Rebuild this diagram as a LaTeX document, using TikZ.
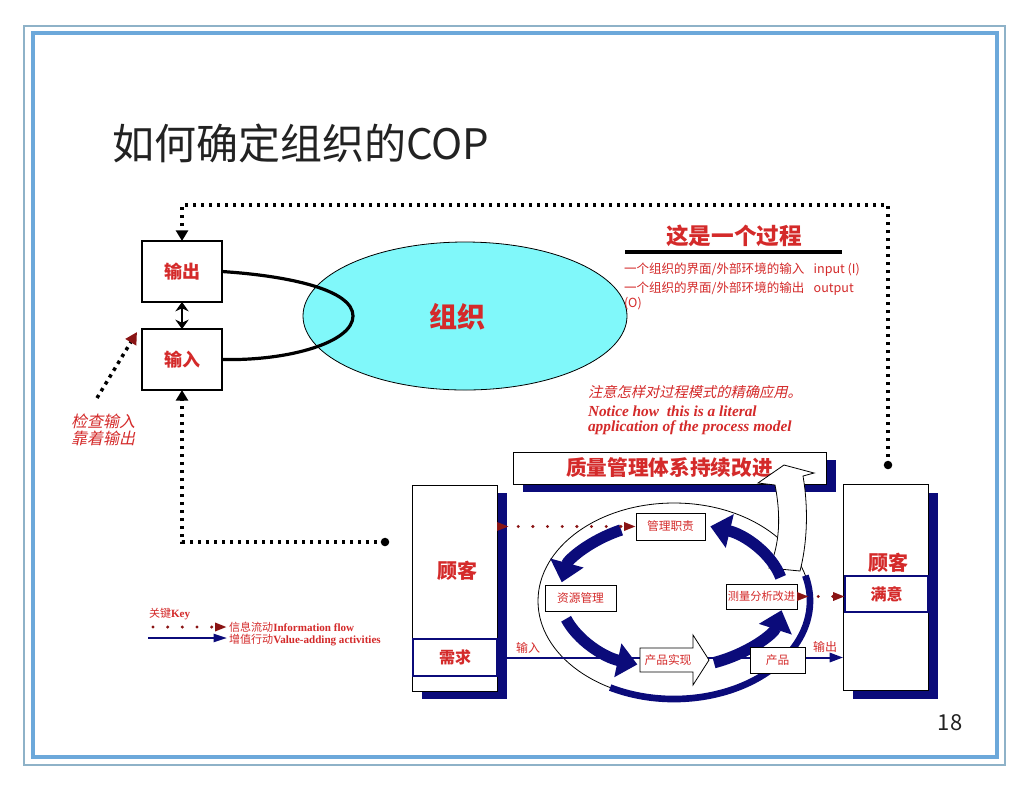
\documentclass[tikz,border=0pt]{standalone}
\usepackage{fontspec}
\setmainfont{Liberation Serif}
\newfontfamily\cjk{Noto Sans CJK SC}
\newfontfamily\cjkit[FakeSlant=0.22]{Noto Sans CJK SC}
\newfontfamily\tnr{Liberation Serif}
\usetikzlibrary{arrows.meta,shapes.geometric,calc,shadows}
\definecolor{tred}{HTML}{D42A2A}
\definecolor{dred}{HTML}{8A1414}
\definecolor{navy}{HTML}{0B0B7A}
\definecolor{cyanfill}{HTML}{80F8FA}
\definecolor{frameA}{HTML}{6CA8DA}
\definecolor{frameB}{HTML}{8EB2C8}
\definecolor{titlec}{HTML}{222222}
\tikzset{
  every node/.style={inner sep=0pt, outer sep=0pt},
  wbox/.style={draw=black, line width=0.8pt, fill=white, text=tred, font=\cjk\bfseries\fontsize{13.5}{15}\selectfont},
  sbox/.style={draw=black, line width=0.6pt, fill=white, text=tred, font=\cjk\fontsize{8.8}{10}\selectfont},
  nbox/.style={draw=navy, line width=2.2pt, fill=white, text=tred, font=\cjk\bfseries\fontsize{12}{13}\selectfont},
  navyshadow/.style={drop shadow={shadow xshift=7.5pt, shadow yshift=-6pt, fill=navy, opacity=1}},
  custbox/.style={draw=black, line width=0.6pt, fill=white, minimum width=63.75pt, minimum height=154.5pt, navyshadow},
  dotline/.style={line width=2.6pt, dash pattern=on 2.6pt off 3.4pt},
  infoline/.style={draw=dred, line width=2.5pt, line cap=round, dash pattern=on 0pt off 11pt},
  infotip/.style={-{Triangle[width=6pt,length=9pt]}},
  cyc/.style={draw=navy, line width=8.5pt, -{Triangle[width=25pt,length=15pt]}},
  lbl/.style={text=tred, font=\cjk\fontsize{9}{10}\selectfont},
  custtxt/.style={text=tred, font=\cjk\bfseries\fontsize{15}{17}\selectfont},
}
\begin{document}
\begin{tikzpicture}[x=0.75pt,y=-0.75pt]
\useasboundingbox (0,0) rectangle (1030,790);
\fill[white] (0,0) rectangle (1030,790);
% frame
\draw[frameB, line width=1.2pt] (24,26) rectangle (1005,765);
\draw[frameA, line width=3.4pt] (33,33) rectangle (997,757);

% title
\node[anchor=base west, text=titlec, font=\cjk\fontsize{31.5}{34}\selectfont] (title) at (112,159) {如何确定组织的COP};

% top left
\node[ellipse, draw=black, line width=0.6pt, fill=cyanfill, minimum width=243pt, minimum height=111pt] (org) at (465,316) {};
\node[text=tred, font=\cjk\bfseries\fontsize{21}{24}\selectfont] (orgt) at (457,317) {组织};
\node[wbox, minimum width=60pt, minimum height=45.75pt] (out) at (182,271.5) {输出};
\node[wbox, minimum width=60pt, minimum height=45.75pt] (in) at (182,359.5) {输入};
\draw[line width=2.4pt] (out.east) .. controls (290,276) and (353,290) .. (353,316)
  .. controls (353,342) and (290,361) .. (in.east);
\draw[line width=2.2pt, {Stealth[length=7pt,width=10pt]}-{Stealth[length=7pt,width=10pt]}] (out.south) -- (in.north);

\coordinate (tdot) at (888,465);
\coordinate (tr) at (888,205);
\coordinate (tl) at (182,205);
\draw[dotline, -{Triangle[width=9pt,length=8pt]}] (tdot) -- (tr) -- (tl) -- (out.north);
\fill (tdot) circle[radius=3.2pt];
\coordinate (bdot) at (385,542);
\coordinate (bl) at (182,542);
\draw[dotline, -{Triangle[width=9pt,length=8pt]}] (bdot) -- (bl) -- (in.south);
\fill (bdot) circle[radius=3.2pt];

\coordinate (chkA) at (97,398);
\coordinate (chkB) at (137,332);
\draw[dotline, -{Triangle[width=9pt,length=9pt,color=dred]}] (chkA) -- (chkB);
\node[align=center, text=tred, font=\cjkit\fontsize{12}{12.75}\selectfont] (chk) at (103,430) {检查输入\\靠着输出};

% top right
\node[text=tred, font=\cjk\bfseries\fontsize{17}{19}\selectfont] (proc) at (734,236) {这是一个过程};
\coordinate (ulA) at (625,252);
\coordinate (ulB) at (842,252);
\draw[line width=2.3pt] (ulA) -- (ulB);
\node[anchor=west, text=tred, font=\cjk\fontsize{9.4}{11}\selectfont] (l1) at (624,270) {一个组织的界面/外部环境的输入\hspace{7pt}input (I)};
\node[anchor=west, text=tred, font=\cjk\fontsize{9.4}{11}\selectfont] (l2) at (624,289) {一个组织的界面/外部环境的输出\hspace{7pt}output};
\node[anchor=west, text=tred, font=\cjk\fontsize{9.4}{11}\selectfont] (l3) at (624,304) {(O)};
\node[anchor=west, text=tred, font=\cjkit\fontsize{10.7}{12}\selectfont] (note) at (588,392) {注意怎样对过程模式的精确应用。};
\node[anchor=west, align=left, text=tred, font=\tnr\bfseries\itshape\fontsize{11.5}{11.25}\selectfont] (notice) at (588,420) {Notice how\ \ this is a literal\\application of the process model};

% bottom model
\coordinate (ec) at (674,601);
\draw[line width=0.6pt] (ec) ellipse [x radius=136, y radius=98];
\draw[navy, line width=5pt] ($(ec)+(118:136 and 98)$) arc[start angle=118, end angle=-15, x radius=136, y radius=98];

\node[draw=black, line width=0.6pt, fill=white, minimum width=234.75pt, minimum height=24pt, navyshadow, text=tred, font=\cjk\bfseries\fontsize{15.5}{17}\selectfont] (qms) at (669.5,468) {质量管理体系持续改进};

\draw[line width=0.6pt, fill=white] (769,568) .. controls (780,545) and (781,515) .. (775,485)
  -- (758,483) -- (784,465) -- (814,473) -- (803,476)
  .. controls (808,505) and (808,540) .. (800,571) -- cycle;

\node[custbox] (lc) at (454.5,588) {};
\node[custtxt] (lct) at (457,571) {顾客};
\node[custbox] (rc) at (885.5,587.5) {};
\node[custtxt] (rct) at (888,563) {顾客};
\node[nbox, minimum width=63pt, minimum height=27.75pt] (need) at (455,657.5) {需求};
\node[nbox, minimum width=62.25pt, minimum height=27pt] (sat) at (886.5,594) {满意};

\draw[navy, line width=1.5pt, -{Triangle[width=7pt,length=10pt]}] (need.east) -- (need.east -| rc.west);
\node[lbl] (inl) at (528,648) {输入};
\node[lbl] (outl) at (825,647) {输出};

\coordinate (cc) at (672,595);
\draw[cyc] ($(cc)+(243:112 and 73)$) arc[start angle=243, end angle=190, x radius=112, y radius=73];
\draw[cyc] ($(cc)+(161:112 and 73)$) arc[start angle=161, end angle=108, x radius=112, y radius=73];
\draw[cyc] ($(cc)+(68:112 and 73)$) arc[start angle=68, end angle=12, x radius=112, y radius=73];
\draw[cyc] ($(cc)+(346:112 and 73)$) arc[start angle=346, end angle=290, x radius=112, y radius=73];

\draw[line width=0.6pt, fill=white] (640,648) -- (693,648) -- (693,635) -- (709,660) -- (693,685) -- (693,672) -- (640,672) -- cycle;
\node[text=tred, font=\cjk\fontsize{8.8}{10}\selectfont] (real) at (668,660) {产品实现};

\node[sbox, minimum width=51.75pt, minimum height=20.25pt] (mgmt) at (670.5,526.5) {管理职责};
\node[sbox, minimum width=53.25pt, minimum height=19.5pt] (res) at (580.5,598) {资源管理};
\node[sbox, minimum width=53.25pt, minimum height=18.75pt, font=\cjk\fontsize{8.4}{10}\selectfont] (meas) at (761.5,596.5) {测量分析改进};
\node[sbox, minimum width=41.25pt, minimum height=19.5pt] (prod) at (777.5,660) {产品};

\draw[infoline, {Triangle[reversed,width=6pt,length=9pt]}-{Triangle[width=6pt,length=9pt]}] (mgmt.west -| lc.east) -- (mgmt.west);
\draw[infoline, {Triangle[reversed,width=6pt,length=9pt]}-{Triangle[width=6pt,length=9pt]}] (meas.east) -- (meas.east -| sat.west);

% legend
\node[anchor=west, text=tred, font=\fontsize{8.3}{9}\selectfont] (key) at (149,614) {{\cjk 关键}{\tnr\bfseries Key}};
\coordinate (k1a) at (153,627);
\coordinate (k1b) at (227,627);
\draw[infoline, infotip] (k1a) -- (k1b);
\coordinate (k2a) at (148,638);
\coordinate (k2b) at (227,638);
\draw[navy, line width=1.5pt, -{Triangle[width=6pt,length=10pt]}] (k2a) -- (k2b);
\node[anchor=west, text=tred, font=\fontsize{8.3}{9}\selectfont] (kt1) at (229,627) {{\cjk 信息流动}{\tnr\bfseries Information flow}};
\node[anchor=west, text=tred, font=\fontsize{8.3}{9}\selectfont] (kt2) at (229,640) {{\cjk 增值行动}{\tnr\bfseries Value-adding activities}};

% page number
\node[text=titlec, font=\cjk\fontsize{16.5}{18}\selectfont] (pg) at (950,723) {18};
\end{tikzpicture}
\end{document}
